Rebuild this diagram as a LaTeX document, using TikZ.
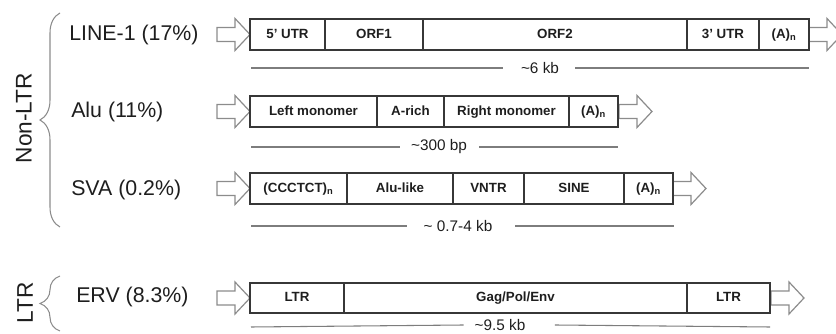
\documentclass[tikz,border=0pt]{standalone}
\usepackage{fontspec}
\setmainfont{Liberation Sans}
\usetikzlibrary{positioning, decorations.pathreplacing}
\definecolor{segline}{RGB}{55,55,55}
\definecolor{arrowgray}{RGB}{140,140,140}
\definecolor{rulegray}{RGB}{125,125,125}
\definecolor{labeltext}{RGB}{30,30,30}

\begin{document}
\begin{tikzpicture}[x=0.75pt, y=-0.75pt,
  seg/.style={draw=segline, line width=0.9pt, minimum height=31*0.75pt, inner sep=0pt, outer sep=0pt, text height=7.5pt, text depth=2pt, font=\fontsize{10}{12}\selectfont\bfseries, text=labeltext},
  segw/.style={minimum width=#1*0.75pt},
  rowlbl/.style={anchor=west, font=\fontsize{16}{19}\selectfont, text=labeltext, inner sep=0pt},
  grouplbl/.style={rotate=90, font=\fontsize{17}{20}\selectfont, text=labeltext, inner sep=0pt},
  sizelbl/.style={font=\fontsize{11.5}{14}\selectfont, text=labeltext, inner sep=0pt},
  scaleline/.style={rulegray, line width=0.8pt},
  grpbrace/.style={arrowgray, line width=0.8pt, decorate, decoration={brace, amplitude=15pt, raise=0pt}},
  hollow/.pic={\draw[arrowgray, line width=0.9pt, fill=white] (-33,-7) -- (-15,-7) -- (-15,-16) -- (0,0) -- (-15,16) -- (-15,7) -- (-33,7) -- cycle;},
]
\clip (0,0) rectangle (836,334);

% Group labels and braces
\node[grouplbl] (nonltr) at (24,118) {Non-LTR};
\node[grouplbl] (ltr) at (25,303) {LTR};
\draw[grpbrace] (60,227) -- (60,13);
\draw[grpbrace] (60,331) -- (60,276);

% Row labels
\node[rowlbl] (line1lbl) at (69,35) {LINE-1 (17\%)};
\node[rowlbl] (alulbl) at (71,112) {Alu (11\%)};
\node[rowlbl] (svalbl) at (71,190) {SVA (0.2\%)};
\node[rowlbl] (ervlbl) at (76,297) {ERV (8.3\%)};

% Arrows in and out
\pic at (250,34.5) {hollow};
\pic at (842,34.5) {hollow};
\pic at (250,111.5) {hollow};
\pic at (652,111.5) {hollow};
\pic at (250,188.5) {hollow};
\pic at (706,188.5) {hollow};
\pic at (250,298) {hollow};
\pic at (804,298) {hollow};

% LINE-1
\node[seg, segw=75, anchor=west] (l1a) at (250,34.5) {5’ UTR};
\node[seg, segw=98, right=0pt of l1a] (l1b) {ORF1};
\node[seg, segw=264, right=0pt of l1b] (l1c) {ORF2};
\node[seg, segw=72, right=0pt of l1c] (l1d) {3’ UTR};
\node[seg, segw=50, right=0pt of l1d] (l1e) {(A)\textsubscript{n}};

% Alu
\node[seg, segw=127, anchor=west] (alua) at (250,111.5) {Left monomer};
\node[seg, segw=67, right=0pt of alua] (alub) {A-rich};
\node[seg, segw=125, right=0pt of alub] (aluc) {Right monomer};
\node[seg, segw=49, right=0pt of aluc] (alud) {(A)\textsubscript{n}};

% SVA
\node[seg, segw=97, anchor=west] (svaa) at (250,188.5) {(CCCTCT)\textsubscript{n}};
\node[seg, segw=106, right=0pt of svaa] (svab) {Alu-like};
\node[seg, segw=71, right=0pt of svab] (svac) {VNTR};
\node[seg, segw=100, right=0pt of svac] (svad) {SINE};
\node[seg, segw=49, right=0pt of svad] (svae) {(A)\textsubscript{n}};

% ERV
\node[seg, segw=94, anchor=west, minimum height=30*0.75pt] (erva) at (250,298) {LTR};
\node[seg, segw=343, minimum height=30*0.75pt, right=0pt of erva] (ervb) {Gag/Pol/Env};
\node[seg, segw=83, minimum height=30*0.75pt, right=0pt of ervb] (ervc) {LTR};

% Length scales
\node[sizelbl] (l1len) at (540,68) {\textasciitilde6 kb};
\node[sizelbl] (alulen) at (439,147) {\textasciitilde300 bp};
\node[sizelbl] (svalen) at (458,226) {\textasciitilde{} 0.7-4 kb};
\node[sizelbl] (ervlen) at (500,325) {\textasciitilde9.5 kb};
\draw[scaleline] (251,68) -- ([xshift=-13pt]l1len.west) ([xshift=12pt]l1len.east) -- (809,68);
\draw[scaleline] (251,147) -- ([xshift=-8pt]alulen.west) ([xshift=9pt]alulen.east) -- (618,147);
\draw[scaleline] (251,226) -- ([xshift=-12pt]svalen.west) ([xshift=17pt]svalen.east) -- (674,226);
\draw[scaleline] (251,327) -- ([xshift=-8pt]ervlen.west) ([xshift=22pt]ervlen.east) -- (770,327);
\end{tikzpicture}
\end{document}
